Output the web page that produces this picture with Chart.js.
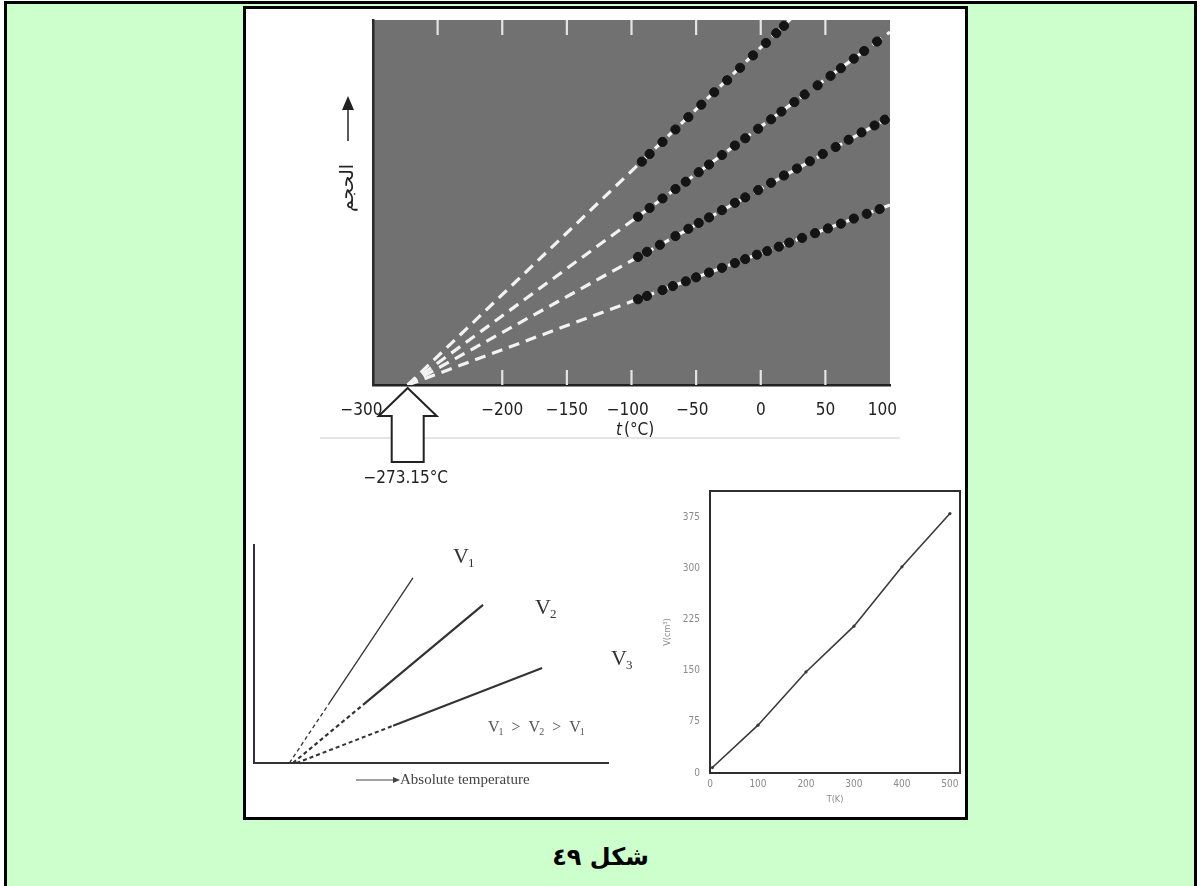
<!DOCTYPE html>
<html>
<head>
<meta charset="utf-8">
<script src="https://cdn.jsdelivr.net/npm/chart.js@4.4.1/dist/chart.umd.min.js"></script>
<style>
  html, body { margin: 0; padding: 0; width: 1201px; height: 886px; overflow: hidden; background: #fff; }
  #frame { position: absolute; left: 4px; top: 1px; width: 1187px; height: 900px;
           border: 3px solid #000; border-bottom: none; background: #ccffcc; }
  #panel { position: absolute; left: 243px; top: 6px; width: 719px; height: 808px;
           border: 3px solid #000; background: #fff; }
  canvas { position: absolute; }
  #caption { position: absolute; left: 0; width: 1201px; top: 843px; text-align: center;
             font: bold 24px 'DejaVu Sans', sans-serif; color: #000; }
</style>
</head>
<body>
<div id="frame"></div>
<div id="panel"></div>
<canvas id="charlesLaw" width="640" height="490" style="left:320px;top:10px"></canvas>
<canvas id="isobars" width="400" height="300" style="left:245px;top:500px"></canvas>
<canvas id="volTemp" width="345" height="340" style="left:625px;top:475px"></canvas>
<div id="caption" dir="rtl">شكل ٤٩</div>

<script>
// ---- top plot: volume vs t(°C) for four gas samples ----
const tA = [-92, -86, -76, -66, -56, -46, -36, -26, -16, -6, 4, 12, 18];
const vA = [61.2, 63.3, 66.6, 70.0, 73.4, 76.8, 80.2, 83.5, 86.9, 90.3, 93.7, 96.4, 98.4];
const tB = [-95, -86, -76, -66, -58, -48, -40, -30, -20, -12, -2, 8, 16, 26, 34, 44, 54, 62, 72, 80, 90];
const vB = [46.1, 48.5, 51.1, 53.7, 55.7, 58.3, 60.4, 63.0, 65.6, 67.6, 70.2, 72.8, 74.9, 77.5, 79.6, 82.1, 84.7, 86.8, 89.4, 91.5, 94.1];
const tC = [-95, -88, -78, -66, -56, -48, -40, -30, -20, -12, -2, 8, 18, 28, 38, 48, 58, 68, 78, 88, 96];
const vC = [35.1, 36.5, 38.4, 40.8, 42.8, 44.4, 45.9, 47.9, 49.9, 51.4, 53.4, 55.4, 57.4, 59.3, 61.3, 63.3, 65.2, 67.2, 69.2, 71.1, 72.7];
const tD = [-95, -88, -76, -68, -58, -50, -40, -30, -20, -12, -3, 5, 14, 22, 32, 42, 52, 62, 72, 82, 92];
const vD = [23.5, 24.4, 26.0, 27.1, 28.4, 29.5, 30.8, 32.1, 33.4, 34.5, 35.7, 36.7, 37.9, 39.0, 40.3, 41.6, 42.9, 44.2, 45.6, 46.9, 48.2];

// extrapolated lines all start at absolute zero and end at t = 100
const absZeroC = -273.15;
const fitEndT = 100;
const fitEndV = [126.3, 96.7, 73.4, 49.3];

const xTicksC = [-300, -250, -200, -150, -100, -50, 0, 50, 100];

// ---- bottom-left sketch: three isobars vs absolute temperature ----
const isoX1 = [10, 21.5, 44.9], isoY1 = [0, 28, 84.9];
const isoX2 = [11, 30.8, 64.7], isoY2 = [0, 26.7, 72.5];
const isoX3 = [12, 39.3, 81.4], isoY3 = [0, 17.1, 43.6];

// ---- bottom-right plot: V(cm³) vs T(K) ----
const kelvin = [5, 100, 200, 300, 400, 500];
const volCm3 = [8, 70, 148, 215, 302, 380];
const kTicks = [0, 100, 200, 300, 400, 500];
const vTicks = [0, 75, 150, 225, 300, 375];

const NARROW = "'Liberation Sans Narrow', 'DejaVu Sans Condensed', 'Liberation Sans', sans-serif";
const SERIF = "'Liberation Serif', 'DejaVu Serif', serif";

const pts = (xs, ys) => xs.map((x, i) => ({ x: x, y: ys[i] }));
const dotSet = (xs, ys) => ({
  type: 'scatter', data: pts(xs, ys),
  backgroundColor: '#141414', borderColor: '#141414',
  pointRadius: 4.6, pointHoverRadius: 4.6
});
const fitSet = (endV) => ({
  type: 'line', data: [{ x: absZeroC, y: 0 }, { x: fitEndT, y: endV }],
  borderColor: '#f2f2f2', borderWidth: 3.2, borderDash: [11, 7],
  pointRadius: 0, fill: false
});

// the hand-lettered labels sit a little off their ticks; pad with spaces to nudge them left
function tempLabel(v) {
  if (v === -250) return '';
  const s = v < 0 ? '−' + Math.abs(v) : String(v);
  if (v === -300) return s + '\u2003\u2002';
  if (v === 100) return s + '\u2003';
  if (v === -50 || v === -100) return s + '\u2002';
  return s;
}

const topDecor = {
  id: 'topDecor',
  beforeDraw(chart) {
    const { ctx, chartArea: a } = chart;
    ctx.save();
    ctx.fillStyle = '#717171';
    ctx.fillRect(a.left, a.top, a.right - a.left, a.bottom - a.top);
    ctx.restore();
  },
  beforeDatasetsDraw(chart) {
    const { ctx, chartArea: a, scales: { x } } = chart;
    ctx.save();
    ctx.strokeStyle = '#e4e4e4';
    ctx.lineWidth = 2.2;
    x.ticks.forEach(t => {
      if (t.value <= -300 || t.value >= 100) return;
      const px = x.getPixelForValue(t.value);
      ctx.beginPath();
      ctx.moveTo(px, a.top);
      ctx.lineTo(px, a.top + 15);
      if (t.value > -250) {
        ctx.moveTo(px, a.bottom);
        ctx.lineTo(px, a.bottom - 15);
      }
      ctx.stroke();
    });
    ctx.restore();
  },
  afterDraw(chart) {
    const { ctx, chartArea: a, scales: { x } } = chart;
    ctx.save();

    // faint rule under the axis title
    ctx.strokeStyle = 'rgba(0,0,0,0.10)';
    ctx.lineWidth = 2;
    ctx.beginPath();
    ctx.moveTo(0, a.bottom + 53);
    ctx.lineTo(a.right + 10, a.bottom + 53);
    ctx.stroke();

    // hollow arrow pointing at absolute zero
    const xz = x.getPixelForValue(absZeroC);
    const yb = a.bottom + 3;
    ctx.beginPath();
    ctx.moveTo(xz, yb);
    ctx.lineTo(xz + 29, yb + 28);
    ctx.lineTo(xz + 16, yb + 28);
    ctx.lineTo(xz + 16, yb + 74);
    ctx.lineTo(xz - 16, yb + 74);
    ctx.lineTo(xz - 16, yb + 28);
    ctx.lineTo(xz - 29, yb + 28);
    ctx.closePath();
    ctx.fillStyle = '#fff';
    ctx.fill();
    ctx.strokeStyle = '#222';
    ctx.lineWidth = 2;
    ctx.stroke();

    ctx.fillStyle = '#222';
    ctx.font = '17px ' + NARROW;
    ctx.textAlign = 'center';
    ctx.textBaseline = 'middle';
    ctx.fillText('−273.15°C', xz - 2, yb + 91);

    // x axis title: t (°C)
    const tx = 302, ty = a.bottom + 46;
    ctx.font = 'italic 17px ' + NARROW;
    ctx.textAlign = 'right';
    ctx.fillText('t', tx, ty);
    ctx.font = '17px ' + NARROW;
    ctx.textAlign = 'left';
    ctx.fillText('(°C)', tx + 2, ty);

    // y axis: arrow and rotated Arabic title
    const ax = 28;
    ctx.strokeStyle = '#333';
    ctx.lineWidth = 1.6;
    ctx.beginPath();
    ctx.moveTo(ax, 131);
    ctx.lineTo(ax, 98);
    ctx.stroke();
    ctx.beginPath();
    ctx.moveTo(ax, 86);
    ctx.lineTo(ax + 6, 100);
    ctx.lineTo(ax - 6, 100);
    ctx.closePath();
    ctx.fillStyle = '#222';
    ctx.fill();

    ctx.translate(ax, 178);
    ctx.rotate(-Math.PI / 2);
    ctx.font = '19px ' + "'DejaVu Sans', sans-serif";
    ctx.textAlign = 'center';
    ctx.textBaseline = 'middle';
    ctx.fillText('الحجم', 0, 0);
    ctx.restore();
  }
};

new Chart(document.getElementById('charlesLaw'), {
  data: {
    datasets: [
      dotSet(tA, vA), dotSet(tB, vB), dotSet(tC, vC), dotSet(tD, vD),
      fitSet(fitEndV[0]), fitSet(fitEndV[1]), fitSet(fitEndV[2]), fitSet(fitEndV[3])
    ]
  },
  options: {
    responsive: false,
    animation: false,
    devicePixelRatio: 1,
    layout: { padding: { top: 10, right: 70, left: 0, bottom: 0 } },
    plugins: { legend: { display: false }, tooltip: { enabled: false } },
    scales: {
      x: {
        type: 'linear', min: xTicksC[0], max: xTicksC[xTicksC.length - 1],
        afterBuildTicks: s => { s.ticks = xTicksC.map(v => ({ value: v })); },
        ticks: {
          autoSkip: false, maxRotation: 0, padding: 15, color: '#222',
          font: { family: NARROW, size: 17 },
          callback: tempLabel
        },
        grid: { display: false, drawTicks: false },
        border: { display: true, color: '#222', width: 2.5 },
        afterFit: s => { s.height = 115; }
      },
      y: {
        type: 'linear', min: 0, max: 100,
        ticks: { display: false },
        grid: { display: false, drawTicks: false },
        border: { display: true, color: '#2a2a2a', width: 2.5 },
        afterFit: s => { s.width = 53; }
      }
    }
  },
  plugins: [topDecor]
});

// ---- isobar sketch ----
function subLabel(ctx, base, sub, x, y, size) {
  ctx.font = size + 'px ' + SERIF;
  ctx.textAlign = 'left';
  ctx.textBaseline = 'alphabetic';
  ctx.fillText(base, x, y);
  const w = ctx.measureText(base).width;
  ctx.font = Math.round(size * 0.6) + 'px ' + SERIF;
  ctx.fillText(sub, x + w - 1, y + size * 0.2);
  return x + w - 1 + ctx.measureText(sub).width;
}

const isoDecor = {
  id: 'isoDecor',
  afterDraw(chart) {
    const { ctx } = chart;
    ctx.save();
    ctx.fillStyle = '#333';
    subLabel(ctx, 'V', '1', 208, 63, 22);
    subLabel(ctx, 'V', '2', 290, 114, 22);
    subLabel(ctx, 'V', '3', 366, 165, 22);

    // V1 > V2 > V1 note
    ctx.fillStyle = '#555';
    let nx = 243;
    ['1', '2', '1'].forEach((s, i) => {
      nx = subLabel(ctx, 'V', s, nx, 232, 16);
      if (i < 2) {
        ctx.font = '16px ' + SERIF;
        ctx.fillText('  >  ', nx, 232);
        nx += ctx.measureText('  >  ').width;
      }
    });

    // arrow + axis caption
    ctx.strokeStyle = '#444';
    ctx.lineWidth = 1.2;
    ctx.beginPath();
    ctx.moveTo(111, 280);
    ctx.lineTo(150, 280);
    ctx.stroke();
    ctx.beginPath();
    ctx.moveTo(155, 280);
    ctx.lineTo(148, 277);
    ctx.lineTo(148, 283);
    ctx.closePath();
    ctx.fillStyle = '#444';
    ctx.fill();
    ctx.font = '15px ' + SERIF;
    ctx.textAlign = 'left';
    ctx.textBaseline = 'middle';
    ctx.fillText('Absolute temperature', 155, 280);
    ctx.restore();
  }
};

const isoSet = (xs, ys, w) => ({
  type: 'line', data: pts(xs, ys),
  borderColor: '#333', borderWidth: w, pointRadius: 0, fill: false,
  segment: { borderDash: c => c.p0DataIndex === 0 ? [4, 3] : undefined }
});

new Chart(document.getElementById('isobars'), {
  data: {
    datasets: [isoSet(isoX1, isoY1, 1.3), isoSet(isoX2, isoY2, 2.2), isoSet(isoX3, isoY3, 2)]
  },
  options: {
    responsive: false,
    animation: false,
    devicePixelRatio: 1,
    layout: { padding: { top: 45, right: 37, left: 9, bottom: 37 } },
    plugins: { legend: { display: false }, tooltip: { enabled: false } },
    scales: {
      x: {
        type: 'linear', min: 0, max: 100,
        ticks: { display: false }, grid: { display: false, drawTicks: false },
        border: { display: true, color: '#333', width: 2 },
        afterFit: s => { s.height = 0; }
      },
      y: {
        type: 'linear', min: 0, max: 100,
        ticks: { display: false }, grid: { display: false, drawTicks: false },
        border: { display: true, color: '#333', width: 2 },
        afterFit: s => { s.width = 0; }
      }
    }
  },
  plugins: [isoDecor]
});

// ---- V vs T plot ----
const boxFrame = {
  id: 'boxFrame',
  afterDraw(chart) {
    const { ctx, chartArea: a } = chart;
    ctx.save();
    ctx.strokeStyle = '#2e2e2e';
    ctx.lineWidth = 2;
    ctx.strokeRect(a.left, a.top, a.right - a.left, a.bottom - a.top);
    ctx.restore();
  }
};

new Chart(document.getElementById('volTemp'), {
  type: 'line',
  data: {
    datasets: [{
      data: pts(kelvin, volCm3),
      borderColor: '#3a3a3a', borderWidth: 1.6,
      pointRadius: 1.6, pointBackgroundColor: '#3a3a3a', pointBorderWidth: 0,
      fill: false, tension: 0
    }]
  },
  options: {
    responsive: false,
    animation: false,
    devicePixelRatio: 1,
    layout: { padding: { top: 5, right: 10, left: 30, bottom: 0 } },
    plugins: { legend: { display: false }, tooltip: { enabled: false } },
    scales: {
      x: {
        type: 'linear', min: 0, max: 521,
        afterBuildTicks: s => { s.ticks = kTicks.map(v => ({ value: v })); },
        ticks: { autoSkip: false, padding: 5, color: '#8a8a8a', maxRotation: 0,
                 font: { family: NARROW, size: 10 } },
        grid: { display: false, drawTicks: false },
        border: { display: false },
        title: { display: true, text: 'T(K)', color: '#8a8a8a',
                 font: { family: NARROW, size: 9 }, padding: { top: 0, bottom: 10 } },
        afterFit: s => { s.height = 42; }
      },
      y: {
        type: 'linear', min: 0, max: 413,
        afterBuildTicks: s => { s.ticks = vTicks.map(v => ({ value: v })); },
        ticks: { autoSkip: false, padding: 10, color: '#8a8a8a',
                 font: { family: NARROW, size: 10 } },
        grid: { display: false, drawTicks: false },
        border: { display: false },
        title: { display: true, text: 'V(cm³)', color: '#8a8a8a',
                 font: { family: NARROW, size: 9 }, padding: { top: 7, bottom: 0 } },
        afterFit: s => { s.width = 55; }
      }
    }
  },
  plugins: [boxFrame]
});
</script>
</body>
</html>
